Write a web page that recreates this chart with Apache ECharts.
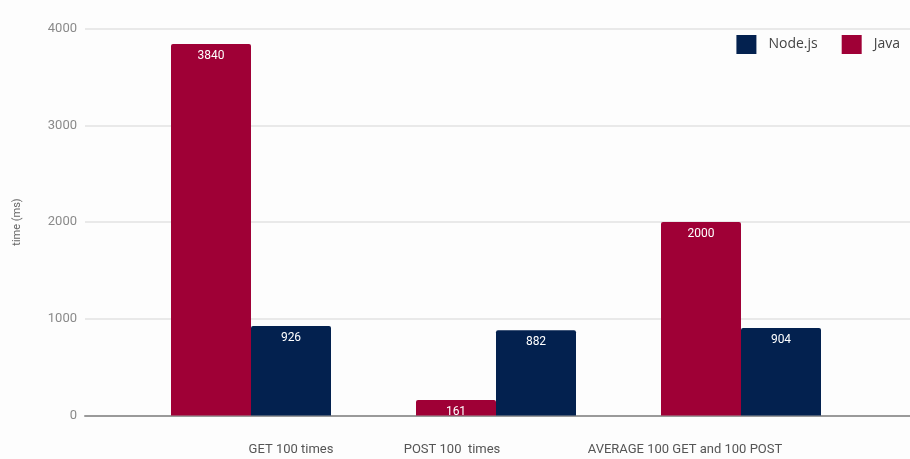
<!DOCTYPE html>
<html><head><meta charset="utf-8">
<script src="https://cdn.jsdelivr.net/npm/echarts@6/dist/echarts.min.js"></script>
<style>html,body{margin:0;padding:0;background:#fff}#c{width:910px;height:459px}</style>
</head><body><div id="c"></div>
<script>
var categories = ['GET 100 times', 'POST 100  times', 'AVERAGE 100 GET and 100 POST'];
var javaValues = [3840, 161, 2000];
var nodeValues = [926, 882, 904];
var yTicks = [0, 1000, 2000, 3000, 4000];

var labelPads = [[0,0,0,80],[0,88,0,0],[0,112,0,0]];
var chart = echarts.init(document.getElementById('c'));
chart.setOption({
  backgroundColor: '#fdfdfd',
  animation: false,
  legend: {
    data: ['Node.js', 'Java'],
    right: 5, top: 30,
    itemWidth: 20, itemHeight: 19, itemGap: 24,
    icon: 'rect',
    textStyle: { fontFamily: 'Open Sans', fontSize: 14, color: '#444', padding: [0,0,0,7] }
  },
  grid: [
    { left: 85, right: 0, top: 28.5, bottom: 43.5 },
    { left: 128.5, right: 46.5, top: 28.5, bottom: 43.5 }
  ],
  xAxis: [
    { type: 'category', gridIndex: 0, data: categories,
      axisLine: { lineStyle: { color: '#9a9a9a', width: 2 } },
      axisTick: { show: false }, axisLabel: { show: false } },
    { type: 'category', gridIndex: 1, data: categories.map(function(c, i){
        return { value: c, textStyle: { padding: labelPads[i] } };
      }),
      axisLine: { show: false }, axisTick: { show: false },
      axisLabel: { interval: 0, hideOverlap: false, margin: 28, fontFamily: 'Roboto', fontSize: 13, color: '#555' } }
  ],
  yAxis: [
    { type: 'value', gridIndex: 0, min: yTicks[0], max: yTicks[yTicks.length-1], interval: 1000,
      name: 'time (ms)', nameLocation: 'middle', nameGap: 62,
      nameTextStyle: { fontFamily: 'Roboto', fontSize: 11, color: '#666' },
      axisLine: { show: false }, axisTick: { show: false },
      axisLabel: { margin: 8, fontFamily: 'Roboto', fontSize: 13, color: '#8a8a8a',
        formatter: function(v){ return String(v); } },
      splitLine: { lineStyle: { color: '#e2e2e2', width: 1.5 } } },
    { type: 'value', gridIndex: 1, min: yTicks[0], max: yTicks[yTicks.length-1], interval: 1000, show: false,
      splitLine: { show: false } }
  ],
  series: [
    { name: 'Java', type: 'bar', xAxisIndex: 1, yAxisIndex: 1, data: javaValues,
      barWidth: 80, barGap: '0%',
      itemStyle: { color: '#9F0036', borderRadius: [2,2,0,0] },
      label: { show: true, position: 'insideTop', distance: 6, color: '#fff', fontFamily: 'Roboto', fontSize: 12 } },
    { name: 'Node.js', type: 'bar', xAxisIndex: 1, yAxisIndex: 1, data: nodeValues,
      barWidth: 80, barGap: '0%',
      itemStyle: { color: '#03214F', borderRadius: [2,2,0,0] },
      label: { show: true, position: 'insideTop', distance: 6, color: '#fff', fontFamily: 'Roboto', fontSize: 12 } }
  ]
});
</script></body></html>
